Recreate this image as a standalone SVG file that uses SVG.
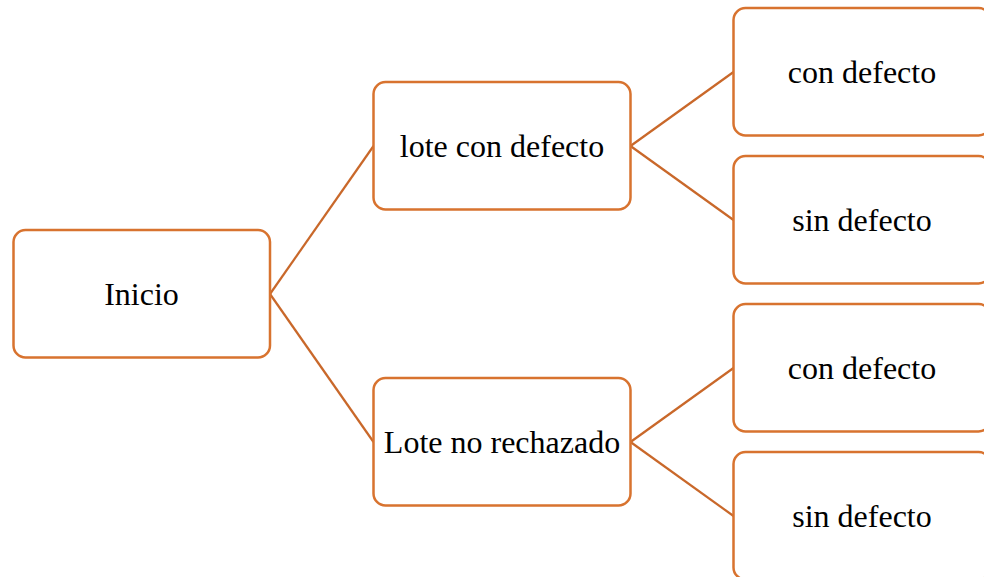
<svg xmlns="http://www.w3.org/2000/svg" width="984" height="577" viewBox="0 0 984 577">
<style>
.box{fill:#fff;stroke:#D8732F;stroke-width:2.5}
.lbl{font-family:"Liberation Serif","Times New Roman",serif;font-size:32px;fill:#000;text-anchor:middle}
.con{stroke:#C9682A;stroke-width:2.2;fill:none}
</style>
<rect width="984" height="577" fill="#fff"/>
<g id="connectors">
<line class="con" x1="270" y1="294" x2="373.5" y2="146"/>
<line class="con" x1="270" y1="294" x2="373.5" y2="442"/>
<line class="con" x1="630.5" y1="146" x2="733.5" y2="72"/>
<line class="con" x1="630.5" y1="146" x2="733.5" y2="220"/>
<line class="con" x1="630.5" y1="442" x2="733.5" y2="368"/>
<line class="con" x1="630.5" y1="442" x2="733.5" y2="516"/>
</g>
<g id="inicio">
<rect class="box" x="13.5" y="230" width="256.5" height="127.5" rx="12"/>
<text class="lbl" x="141.5" y="304.5">Inicio</text>
</g>
<g id="lote-con-defecto">
<rect class="box" x="373.5" y="82" width="257" height="127.5" rx="12"/>
<text class="lbl" x="502" y="156.5">lote con defecto</text>
</g>
<g id="lote-no-rechazado">
<rect class="box" x="373.5" y="378" width="257" height="127.5" rx="12"/>
<text class="lbl" x="502" y="452.5">Lote no rechazado</text>
</g>
<g id="con-defecto-1">
<rect class="box" x="733.5" y="8" width="257" height="127.5" rx="12"/>
<text class="lbl" x="862" y="82.5">con defecto</text>
</g>
<g id="sin-defecto-1">
<rect class="box" x="733.5" y="156" width="257" height="127.5" rx="12"/>
<text class="lbl" x="862" y="230.5">sin defecto</text>
</g>
<g id="con-defecto-2">
<rect class="box" x="733.5" y="304" width="257" height="127.5" rx="12"/>
<text class="lbl" x="862" y="378.5">con defecto</text>
</g>
<g id="sin-defecto-2">
<rect class="box" x="733.5" y="452" width="257" height="127.5" rx="12"/>
<text class="lbl" x="862" y="526.5">sin defecto</text>
</g>
</svg>
